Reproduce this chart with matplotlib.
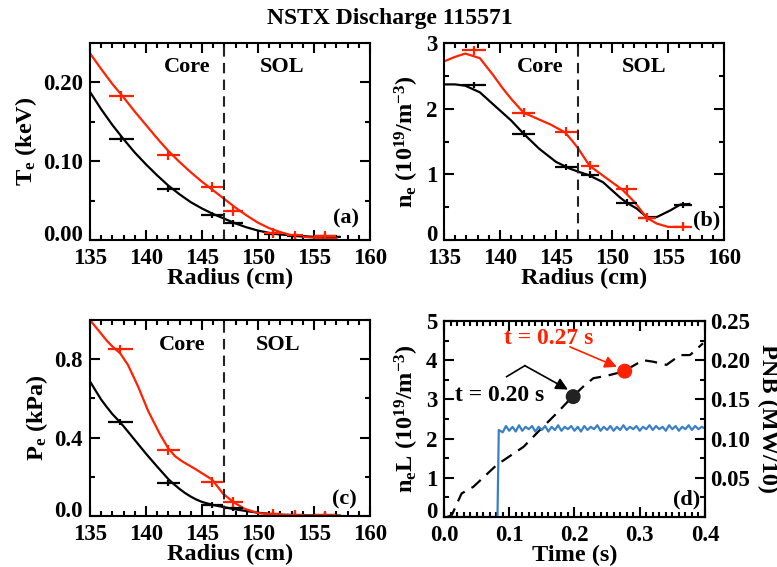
import numpy as np
import matplotlib
matplotlib.use('Agg')
import matplotlib.pyplot as plt
from matplotlib.ticker import MultipleLocator
from matplotlib.transforms import ScaledTranslation

plt.rcParams.update({
    'font.family': ['Liberation Serif', 'DejaVu Serif'],
    'font.weight': 'bold',
    'font.size': 16,
    'axes.labelweight': 'bold',
    'axes.labelsize': 17.5,
    'xtick.labelsize': 16.5,
    'ytick.labelsize': 16.5,
    'mathtext.fontset': 'custom',
    'mathtext.rm': 'Liberation Serif:bold',
    'mathtext.it': 'Liberation Serif:bold:italic',
    'mathtext.bf': 'Liberation Serif:bold',
    'mathtext.default': 'rm',
    'axes.linewidth': 1.5,
})

RED = '#ff2200'
BLUE = '#3a80c8'
BLACK = 'black'

# ---------------- Panel (a): Te (keV) vs radius (cm) ----------------
te_red_r = [135, 136, 137, 138, 139, 140, 141, 142, 143, 144, 145, 146, 147, 148, 149, 150, 151, 152, 153, 154, 155, 156, 157]
te_red_v = [0.237, 0.217, 0.198, 0.181, 0.163, 0.146, 0.129, 0.113, 0.099, 0.086, 0.074, 0.063, 0.052, 0.041, 0.031, 0.022, 0.015, 0.010, 0.006, 0.004, 0.003, 0.002, 0.002]
te_blk_r = [135, 136, 137, 138, 139, 140, 141, 142, 143, 144, 145, 146, 147, 148, 149, 150, 151, 152, 153, 154, 155, 156, 157.3]
te_blk_v = [0.188, 0.166, 0.146, 0.128, 0.111, 0.096, 0.082, 0.069, 0.058, 0.048, 0.040, 0.033, 0.027, 0.021, 0.016, 0.012, 0.009, 0.007, 0.006, 0.005, 0.004, 0.004, 0.004]
te_pts_r = [137.8, 142.0, 145.9, 147.8, 151.3, 153.3, 156.0]
te_pts_xerr = [1.1, 1.05, 0.95, 0.9, 0.75, 0.75, 1.0]
te_red_pts = [0.183, 0.108, 0.067, 0.037, 0.009, 0.006, 0.005]
te_blk_pts = [0.128, 0.065, 0.032, 0.021, 0.008, 0.005, 0.005]

# ---------------- Panel (b): ne (1e19 m^-3) vs radius ----------------
ne_red_r = [135, 136.0, 136.9, 138.2, 139.4, 140.2, 141.0, 142.1, 143.3, 144.5, 145.8, 146.5, 147.0, 148.0, 149.2, 150.0, 150.9, 152.0, 153.1, 154.0, 155.0, 156.0, 156.8]
ne_red_v = [2.72, 2.79, 2.84, 2.77, 2.51, 2.32, 2.15, 1.94, 1.85, 1.76, 1.64, 1.50, 1.39, 1.13, 0.98, 0.88, 0.77, 0.58, 0.34, 0.25, 0.20, 0.20, 0.20]
ne_blk_r = [135, 136.0, 136.9, 138.2, 139.5, 141.0, 142.1, 143.5, 145.0, 146.2, 147.0, 147.9, 149.2, 150.7, 151.3, 152.2, 153.1, 154.0, 155.2, 156.1, 156.9]
ne_blk_v = [2.37, 2.37, 2.35, 2.25, 2.05, 1.82, 1.62, 1.39, 1.19, 1.09, 1.04, 0.99, 0.88, 0.65, 0.57, 0.48, 0.35, 0.35, 0.45, 0.54, 0.55]
ne_pts_r = [137.7, 142.1, 145.9, 148.0, 151.3, 153.1, 156.3]
ne_pts_xerr = [1.05, 1.05, 1.0, 0.8, 0.9, 0.8, 0.8]
ne_red_pts = [2.89, 1.94, 1.65, 1.13, 0.77, 0.34, 0.20]
ne_blk_pts = [2.36, 1.62, 1.11, 0.995, 0.57, 0.335, 0.53]

# ---------------- Panel (c): Pe (kPa) vs radius ----------------
pe_red_r = [135, 135.5, 136.0, 136.5, 137.0, 137.7, 138.4, 139.3, 140.2, 141.25, 142.0, 142.6, 143.2, 144.4, 145.9, 146.9, 147.8, 148.8, 150.0, 151.8, 153.5, 155.5, 157.3]
pe_red_v = [1.00, 0.965, 0.93, 0.895, 0.865, 0.83, 0.77, 0.66, 0.535, 0.417, 0.345, 0.305, 0.28, 0.24, 0.186, 0.113, 0.071, 0.037, 0.015, 0.007, 0.003, 0.002, 0.002]
pe_blk_r = [135, 135.5, 136, 136.5, 137, 137.5, 138, 138.5, 139, 139.5, 140, 140.5, 141, 141.5, 142, 142.5, 143, 143.5, 144, 144.5, 145, 146, 147, 148, 149, 150, 151, 152, 153, 155, 157.3]
pe_blk_v = [0.687, 0.64, 0.594, 0.556, 0.52, 0.49, 0.458, 0.423, 0.388, 0.353, 0.318, 0.285, 0.252, 0.22, 0.188, 0.162, 0.138, 0.117, 0.099, 0.084, 0.072, 0.056, 0.045, 0.034, 0.025, 0.017, 0.011, 0.007, 0.005, 0.003, 0.002]
pe_pts_r = [137.7, 142.0, 145.9, 147.8, 151.3, 153.3, 156.0]
pe_pts_xerr = [1.1, 1.05, 0.95, 0.9, 0.75, 0.75, 1.0]
pe_red_pts = [0.85, 0.335, 0.175, 0.07, 0.01, 0.005, 0.003]
pe_blk_pts = [0.48, 0.17, 0.055, 0.04, 0.01, 0.005, 0.003]

# ---------------- Panel (d): neL and PNB vs time (s) ----------------
nel_t = [0.005, 0.012, 0.027, 0.045, 0.081, 0.122, 0.147, 0.173, 0.193, 0.213, 0.229, 0.249, 0.275, 0.305, 0.321, 0.341, 0.362, 0.377, 0.397]
nel_v = [0.0, 0.05, 0.60, 0.77, 1.33, 1.79, 2.22, 2.65, 3.00, 3.32, 3.54, 3.60, 3.71, 4.00, 3.96, 3.88, 4.13, 4.13, 4.43]
pnb_t = [0.0, 0.082, 0.084, 0.090, 0.095, 0.100, 0.105, 0.110, 0.115, 0.120, 0.125, 0.130, 0.135, 0.140, 0.145, 0.150, 0.155, 0.160, 0.165,
         0.170, 0.175, 0.180, 0.185, 0.190, 0.195, 0.200, 0.205, 0.210, 0.215, 0.220, 0.225, 0.230, 0.235, 0.240, 0.245, 0.250,
         0.255, 0.260, 0.265, 0.270, 0.275, 0.280, 0.285, 0.290, 0.295, 0.300, 0.305, 0.310, 0.315, 0.320, 0.325, 0.330,
         0.335, 0.340, 0.345, 0.350, 0.355, 0.360, 0.365, 0.370, 0.375, 0.380, 0.385, 0.390, 0.395, 0.400]
pnb_v = [0.0, 0.0, 0.111, 0.108, 0.116, 0.110, 0.115, 0.109, 0.117, 0.110, 0.115, 0.112, 0.116, 0.109, 0.115, 0.111, 0.116, 0.109, 0.115,
         0.111, 0.117, 0.110, 0.115, 0.112, 0.116, 0.110, 0.115, 0.109, 0.116, 0.111, 0.115, 0.112, 0.117, 0.110, 0.115, 0.111,
         0.116, 0.110, 0.115, 0.111, 0.117, 0.111, 0.115, 0.112, 0.116, 0.110, 0.115, 0.112, 0.117, 0.111, 0.116, 0.112,
         0.115, 0.110, 0.117, 0.112, 0.116, 0.110, 0.115, 0.112, 0.117, 0.111, 0.116, 0.112, 0.115, 0.113]
dot_t = [0.198, 0.277]
dot_v = [3.07, 3.72]

SEP_R = 147.0

fig = plt.figure(figsize=(7.77, 5.67), dpi=100)
axA = fig.add_axes([0.1158, 0.5767, 0.3604, 0.3474])
axB = fig.add_axes([0.5714, 0.5767, 0.3604, 0.3474])
axC = fig.add_axes([0.1158, 0.0899, 0.3604, 0.3457])
axD = fig.add_axes([0.5714, 0.0882, 0.3359, 0.3457])

fig.text(0.502, 0.968, 'NSTX Discharge 115571', ha='center', va='center', fontsize=17, fontweight='bold')


def style(ax, xminor, yminor, right=True):
    ax.xaxis.set_minor_locator(MultipleLocator(xminor))
    ax.yaxis.set_minor_locator(MultipleLocator(yminor))
    ax.tick_params(which='both', direction='in', top=True, right=right, width=1.5)
    ax.tick_params(which='major', length=7)
    ax.tick_params(axis='x', which='major', pad=6)
    ax.tick_params(axis='y', which='major', pad=5)
    ax.tick_params(which='minor', length=3.5)


def raise_bottom_label(ax):
    lab = ax.get_yticklabels()[0]
    lab.set_transform(lab.get_transform() + ScaledTranslation(0, 5 / 72, fig.dpi_scale_trans))


def profile(ax, rr, rv, br, bv, pr, pxe, prv, pbv, yerr_r, yerr_b):
    ax.plot(br, bv, color=BLACK, lw=1.6)
    ax.plot(rr, rv, color=RED, lw=1.6)
    ax.errorbar(pr, pbv, xerr=pxe, yerr=yerr_b, fmt='none', ecolor=BLACK, elinewidth=1.6, capsize=0)
    ax.errorbar(pr, prv, xerr=pxe, yerr=yerr_r, fmt='none', ecolor=RED, elinewidth=1.6, capsize=0)
    ax.axvline(SEP_R, color='#222222', lw=1.5, ls=(0, (5, 3)))
    ax.set_xlim(135, 160)
    ax.set_xticks([135, 140, 145, 150, 155, 160])
    ax.set_xlabel('Radius (cm)', labelpad=-1)


# (a)
profile(axA, te_red_r, te_red_v, te_blk_r, te_blk_v, te_pts_r, te_pts_xerr, te_red_pts, te_blk_pts, 0.006, 0.004)
axA.set_ylim(0, 0.25)
axA.set_yticks([0, 0.1, 0.2])
axA.set_yticklabels(['0.00', '0.10', '0.20'])
style(axA, 1, 0.05)
axA.set_ylabel('T$_e$ (keV)', labelpad=3)
axA.text(0.346, 0.878, 'Core', transform=axA.transAxes, ha='center', va='center')
axA.text(0.686, 0.878, 'SOL', transform=axA.transAxes, ha='center', va='center')
axA.text(0.913, 0.11, '(a)', transform=axA.transAxes, ha='center', va='center')

# (b)
profile(axB, ne_red_r, ne_red_v, ne_blk_r, ne_blk_v, ne_pts_r, ne_pts_xerr, ne_red_pts, ne_blk_pts, 0.07, 0.05)
axB.set_ylim(0, 3)
axB.set_yticks([0, 1, 2, 3])
axB.set_yticklabels(['0', '1', '2', '3'])
style(axB, 1, 0.5)
axB.set_ylabel('n$_e$ (10$^{19}$/m$^{-3}$)', labelpad=3)
axB.text(0.343, 0.878, 'Core', transform=axB.transAxes, ha='center', va='center')
axB.text(0.714, 0.878, 'SOL', transform=axB.transAxes, ha='center', va='center')
axB.text(0.938, 0.10, '(b)', transform=axB.transAxes, ha='center', va='center')

# (c)
profile(axC, pe_red_r, pe_red_v, pe_blk_r, pe_blk_v, pe_pts_r, pe_pts_xerr, pe_red_pts, pe_blk_pts, 0.025, 0.015)
axC.set_ylim(0, 1.0)
axC.set_yticks([0, 0.4, 0.8])
axC.set_yticklabels(['0.0', '0.4', '0.8'])
style(axC, 1, 0.2)
axC.set_ylabel('P$_e$ (kPa)', labelpad=3)
axC.text(0.33, 0.872, 'Core', transform=axC.transAxes, ha='center', va='center')
axC.text(0.673, 0.872, 'SOL', transform=axC.transAxes, ha='center', va='center')
axC.text(0.91, 0.082, '(c)', transform=axC.transAxes, ha='center', va='center')

# (d)
axD2 = axD.twinx()
axD2.set_position(axD.get_position())
axD2.plot(pnb_t, pnb_v, color=BLUE, lw=1.6)
axD2.set_ylim(0, 0.25)
axD2.set_yticks([0.05, 0.10, 0.15, 0.20, 0.25])
axD2.set_yticklabels(['0.05', '0.10', '0.15', '0.20', '0.25'])
axD2.yaxis.set_minor_locator(MultipleLocator(0.025))
axD2.tick_params(which='both', direction='in', width=1.5)
axD2.tick_params(which='major', length=7, pad=4)
axD2.tick_params(which='minor', length=3.5)
axD2.set_ylabel('PNB (MW/10)', rotation=270, labelpad=20)

axD.plot(nel_t, nel_v, color=BLACK, lw=1.6, ls=(0, (5.5, 3.5)))
axD.scatter(dot_t, dot_v, s=95, c=['#222222', RED], zorder=5)
axD.set_xlim(0, 0.4)
axD.set_ylim(0, 5)
axD.set_xticks([0, 0.1, 0.2, 0.3, 0.4])
axD.set_xticklabels(['0.0', '0.1', '0.2', '0.3', '0.4'])
axD.set_yticks([0, 1, 2, 3, 4, 5])
axD.set_yticklabels(['0', '1', '2', '3', '4', '5'])
style(axD, 0.01, 0.5, right=False)
axD.set_xlabel('Time (s)', labelpad=-1)
axD.set_ylabel('n$_e$L (10$^{19}$/m$^{-3}$)', labelpad=3)
axD.text(0.93, 0.087, '(d)', transform=axD.transAxes, ha='center', va='center')
axD.text(0.160, 4.56, 't = 0.27 s', color=RED, ha='center', va='center', fontsize=17)
axD.text(0.086, 3.11, 't = 0.20 s', color=BLACK, ha='center', va='center', fontsize=17)
axD.plot([0.096, 0.124], [3.58, 3.86], color=BLACK, lw=1.2)
axD.annotate('', xy=(0.19, 3.25), xytext=(0.124, 3.86),
             arrowprops=dict(arrowstyle='-|>', color=BLACK, lw=1.2, mutation_scale=18, shrinkA=0, shrinkB=0))
axD.annotate('', xy=(0.265, 3.83), xytext=(0.193, 4.34),
             arrowprops=dict(arrowstyle='-|>', color=RED, lw=1.2, mutation_scale=18, shrinkA=0, shrinkB=0))

for ax in (axA, axB, axC, axD):
    raise_bottom_label(ax)

fig.savefig('out.png', dpi=100)
